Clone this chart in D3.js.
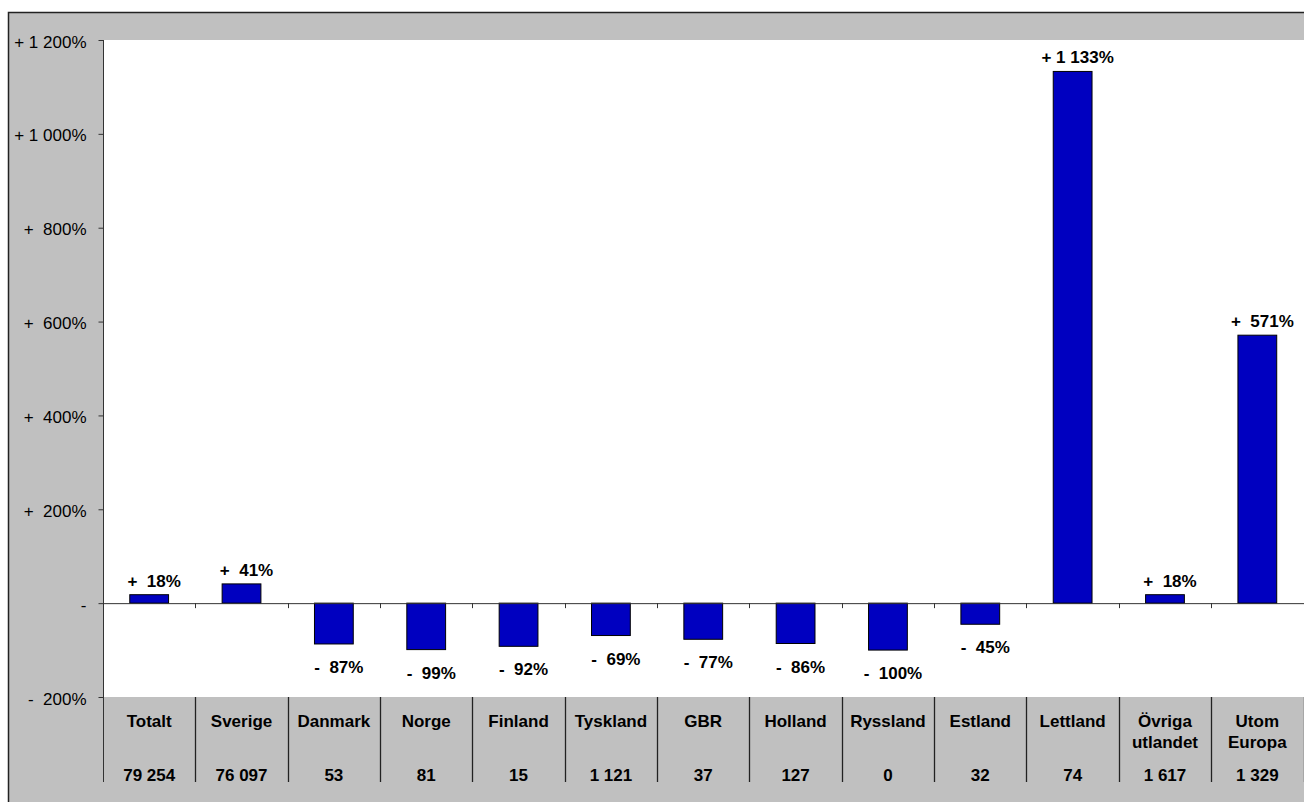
<!DOCTYPE html>
<html>
<head>
<meta charset="utf-8">
<script src="https://cdn.jsdelivr.net/npm/d3@7"></script>
<style>
  body { margin: 0; background: #fff; }
  svg { display: block; font-family: Arial, "Liberation Sans", sans-serif; }
</style>
</head>
<body>
<svg width="1304" height="802"></svg>
<script>
// categories (multi-line names split on \n), change in percent, and counts for the table row
const categories = ["Totalt", "Sverige", "Danmark", "Norge", "Finland", "Tyskland", "GBR",
                    "Holland", "Ryssland", "Estland", "Lettland", "Övriga\nutlandet", "Utom\nEuropa"];
const changes = [18, 41, -87, -99, -92, -69, -77, -86, -100, -45, 1133, 18, 571];
const counts = [79254, 76097, 53, 81, 15, 1121, 37, 127, 0, 32, 74, 1617, 1329];
const yTicks = [-200, 0, 200, 400, 600, 800, 1000, 1200];

const svg = d3.select("svg");

const plotLeft = 103, plotRight = 1303.5, plotTop = 40, plotBottom = 697, tableBottom = 782;

const loc = d3.formatLocale({decimal: ",", thousands: " ", grouping: [3], currency: ["", ""]});
const grp = loc.format(",d");

// "+ 1 133%", "+  571%", "-  87%", "-" for zero
function pct(v) {
    if (v === 0) return "-";
    const a = Math.abs(v);
    return (v > 0 ? "+" : "-") + (a >= 1000 ? " " : "  ") + grp(a) + "%";
}

const x = d3.scaleBand()
    .domain(categories)
    .range([plotLeft, plotRight])
    .padding(0);

const y = d3.scaleLinear()
    .domain([-200, 1200])
    .range([plotBottom, plotTop]);

// outer frame with gray fill
svg.append("rect")
    .attr("x", 8.5).attr("y", 12.5)
    .attr("width", 1310).attr("height", 810)
    .attr("fill", "#c0c0c0")
    .attr("stroke", "#222")
    .attr("stroke-width", 1.5);

// white plot area
svg.append("rect")
    .attr("x", plotLeft).attr("y", plotTop)
    .attr("width", 1304 - plotLeft).attr("height", plotBottom - plotTop)
    .attr("fill", "#fff");

// bars
svg.selectAll(".bar")
    .data(changes)
    .enter().append("rect")
    .attr("class", "bar")
    .attr("x", (d, i) => x(categories[i]) + x.bandwidth() * 0.29)
    .attr("width", x.bandwidth() * 0.42)
    .attr("y", d => y(Math.max(0, d)))
    .attr("height", d => Math.abs(y(d) - y(0)))
    .attr("fill", "#0000c0")
    .attr("stroke", "#000")
    .attr("stroke-width", 1);

// zero line with category ticks
svg.append("line")
    .attr("x1", plotLeft).attr("x2", 1304)
    .attr("y1", y(0) + 0.5).attr("y2", y(0) + 0.5)
    .attr("stroke", "#333");

const bounds = categories.map(c => x(c) + x.bandwidth());

svg.selectAll(".zt")
    .data(bounds)
    .enter().append("line")
    .attr("x1", d => Math.round(d) + 0.5).attr("x2", d => Math.round(d) + 0.5)
    .attr("y1", y(0)).attr("y2", y(0) + 5)
    .attr("stroke", "#333");

// value labels
svg.selectAll(".lbl")
    .data(changes)
    .enter().append("text")
    .attr("x", (d, i) => x(categories[i]) + x.bandwidth() / 2 + 5)
    .attr("y", d => d >= 0 ? y(d) - 8 : y(d) + 29)
    .attr("text-anchor", "middle")
    .style("white-space", "pre")
    .attr("font-size", 17)
    .attr("font-weight", "bold")
    .text(d => pct(d));

// y axis
const yAxis = svg.append("g")
    .attr("transform", `translate(${plotLeft + 0.5},0)`)
    .call(d3.axisLeft(y).tickValues(yTicks).tickSize(5).tickFormat(pct));

yAxis.select(".domain").remove();
yAxis.selectAll(".tick line").attr("stroke", "#333");
yAxis.selectAll(".tick text")
    .attr("x", -17)
    .attr("dy", "0.42em")
    .attr("font-size", 17)
    .attr("font-family", "Arial, 'Liberation Sans', sans-serif")
    .attr("fill", "#000")
    .style("white-space", "pre");

svg.append("line")
    .attr("x1", plotLeft + 0.5).attr("x2", plotLeft + 0.5)
    .attr("y1", plotTop).attr("y2", tableBottom)
    .attr("stroke", "#333");

// table: vertical separators
svg.selectAll(".sep")
    .data(bounds)
    .enter().append("line")
    .attr("x1", d => Math.round(d) + 0.5).attr("x2", d => Math.round(d) + 0.5)
    .attr("y1", plotBottom).attr("y2", tableBottom)
    .attr("stroke", "#222")
    .attr("stroke-width", 1.3);

// table: category names
const names = svg.selectAll(".cat")
    .data(categories)
    .enter().append("text")
    .attr("text-anchor", "middle")
    .attr("font-size", 17)
    .attr("font-weight", "bold")
    .attr("y", 727);

names.selectAll("tspan")
    .data(d => d.split("\n").map(t => ({t, c: d})))
    .enter().append("tspan")
    .attr("x", d => x(d.c) + x.bandwidth() / 2)
    .attr("dy", (d, i) => i ? 20.5 : 0)
    .text(d => d.t);

// table: counts
svg.selectAll(".cnt")
    .data(counts)
    .enter().append("text")
    .attr("x", (d, i) => x(categories[i]) + x.bandwidth() / 2)
    .attr("y", 781)
    .attr("text-anchor", "middle")
    .attr("font-size", 17)
    .attr("font-weight", "bold")
    .text(d => grp(d));
</script>
</body>
</html>
